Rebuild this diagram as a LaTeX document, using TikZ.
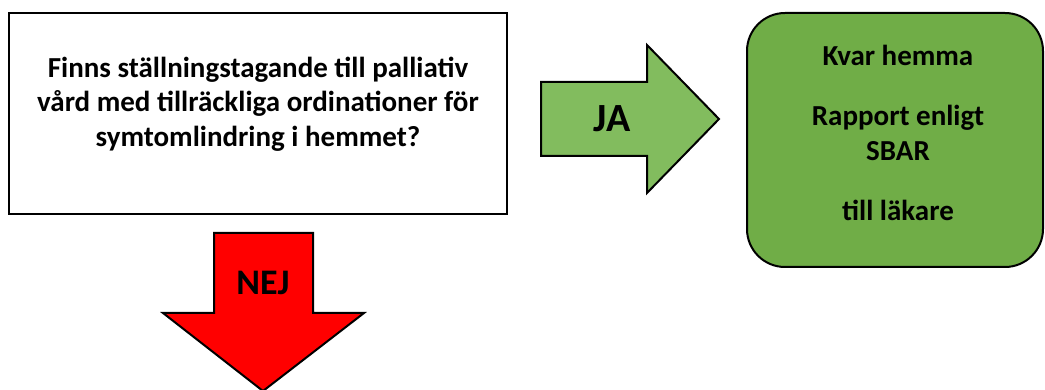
\documentclass[tikz,border=0pt]{standalone}
\usepackage{fontspec}
\setmainfont{Carlito}
\usetikzlibrary{positioning}
\definecolor{boxgreen}{HTML}{70AD47}
\definecolor{arrowgreen}{HTML}{82BC5E}
\definecolor{arrowred}{HTML}{FF0000}
\begin{document}
\begin{tikzpicture}[x=1pt,y=-1pt]
            \tikzstyle{box}=[draw, line width=2.5pt, inner sep=0pt]
            \tikzstyle{txt}=[align=center, inner sep=0pt,
            font=\bfseries\fontsize{29}{34.5}\selectfont]
            \tikzstyle{arrowtxt}=[inner sep=0pt, font=\bfseries\fontsize{40}{44}\selectfont]
            \useasboundingbox (0,0) rectangle (1045,390);

            \node[box, minimum width=498pt, minimum height=201pt] (fraga) at (258,113.5) {};
            \node[txt] (fragatxt) at (258,104) {Finns ställningstagande till palliativ\\
            vård med tillräckliga ordinationer för\\ symtomlindring i hemmet?};

            \node[box, line width=2pt, fill=boxgreen, rounded corners=38pt,
            minimum width=296pt, minimum height=254pt] (hemma) at (895,140) {};
            \node[txt] (kvar) at (898,55) {Kvar hemma};
            \node[txt] (rapport) at (898,133) {Rapport enligt\\ SBAR};
            \node[txt] (lakare) at (898,210) {till läkare};

            \draw[line width=2pt, line join=miter, fill=arrowgreen]
            (541,82) -- (647,82) -- (647,45) -- (719,119) -- (647,193)
            -- (647,156) -- (541,156) -- cycle;
            \node[arrowtxt] (ja) at (612,119) {JA};

            \draw[line width=2pt, line join=miter, fill=arrowred]
            (214,233) -- (313,233) -- (313,313) -- (364,313) -- (263,391)
            -- (163,313) -- (214,313) -- cycle;
            \node[arrowtxt, font=\bfseries\fontsize{36}{40}\selectfont] (nej) at (263,283) {NEJ};
        \end{tikzpicture}
\end{document}
